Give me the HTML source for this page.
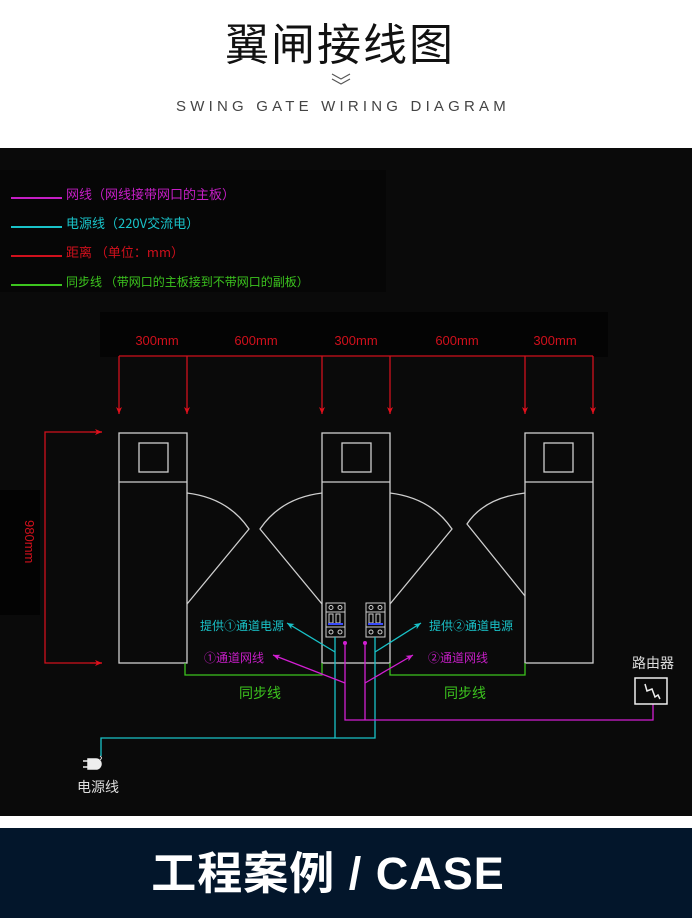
<!DOCTYPE html>
<html><head><meta charset="utf-8"><style>
html,body{margin:0;padding:0;background:#fff;}
body{width:692px;height:918px;overflow:hidden;position:relative;font-family:"Liberation Sans","Noto Sans CJK SC",sans-serif;}
</style></head><body>
<svg width="692" height="918" viewBox="0 0 692 918" xmlns="http://www.w3.org/2000/svg" style="position:absolute;left:0;top:0">
<defs>
<marker id="ar" markerWidth="8" markerHeight="8" refX="7" refY="4" orient="auto" markerUnits="userSpaceOnUse"><path d="M0,1 L7,4 L0,7 L2,4 Z" fill="#e0101c"/></marker>
<marker id="ac" markerWidth="8" markerHeight="8" refX="7" refY="4" orient="auto" markerUnits="userSpaceOnUse"><path d="M0,1 L7,4 L0,7 L2,4 Z" fill="#19c2c8"/></marker>
<marker id="am" markerWidth="8" markerHeight="8" refX="7" refY="4" orient="auto" markerUnits="userSpaceOnUse"><path d="M0,1 L7,4 L0,7 L2,4 Z" fill="#d21fd2"/></marker>
</defs>
<rect x="0" y="0" width="692" height="148" fill="#fff"/>
<text x="340" y="60" text-anchor="middle" font-size="44" font-family="Noto Sans CJK SC,sans-serif" fill="#111" letter-spacing="2">翼闸接线图</text>
<path d="M332,74 L341,79 L350,74 M332,79 L341,84 L350,79" stroke="#555" stroke-width="1.2" fill="none"/>
<text x="343" y="111" text-anchor="middle" font-size="15" fill="#444" letter-spacing="4.2">SWING GATE WIRING DIAGRAM</text>
<rect x="0" y="148" width="692" height="668" fill="#0a0a0a"/>
<rect x="0" y="170" width="386" height="122" fill="#060606"/>
<rect x="100" y="312" width="508" height="45" fill="#040404"/>
<rect x="0" y="490" width="40" height="125" fill="#030303"/>
<g font-size="13" font-family="Noto Sans CJK SC,sans-serif">
<line x1="11" y1="198" x2="62" y2="198" stroke="#c51ec5" stroke-width="2"/>
<text x="66" y="199" fill="#c51ec5">网线（网线接带网口的主板）</text>
<line x1="11" y1="227" x2="62" y2="227" stroke="#19c2c8" stroke-width="2"/>
<text x="66" y="228" fill="#19c2c8">电源线（220V交流电）</text>
<line x1="11" y1="256" x2="62" y2="256" stroke="#d0101c" stroke-width="2"/>
<text x="66" y="257" fill="#d0101c">距离 （单位：mm）</text>
<line x1="11" y1="285" x2="62" y2="285" stroke="#3cc41e" stroke-width="2"/>
<text x="66" y="286" fill="#3cc41e" font-size="12">同步线 （带网口的主板接到不带网口的副板）</text>
</g>
<g font-size="13" fill="#d0101c" text-anchor="middle">
<text x="157" y="345">300mm</text><text x="256" y="345">600mm</text><text x="356" y="345">300mm</text><text x="457" y="345">600mm</text><text x="555" y="345">300mm</text>
</g>
<g stroke="#d0101c" stroke-width="1.3" fill="none">
<line x1="119" y1="356" x2="593" y2="356"/>
<line x1="119" y1="356" x2="119" y2="414" marker-end="url(#ar)"/>
<line x1="187" y1="356" x2="187" y2="414" marker-end="url(#ar)"/>
<line x1="322" y1="356" x2="322" y2="414" marker-end="url(#ar)"/>
<line x1="390" y1="356" x2="390" y2="414" marker-end="url(#ar)"/>
<line x1="525" y1="356" x2="525" y2="414" marker-end="url(#ar)"/>
<line x1="593" y1="356" x2="593" y2="414" marker-end="url(#ar)"/>
<polyline points="102,432 45,432 45,663 102,663"/>
<line x1="90" y1="432" x2="102" y2="432" marker-end="url(#ar)"/>
<line x1="90" y1="663" x2="102" y2="663" marker-end="url(#ar)"/>
</g>
<text x="0" y="0" font-size="13" fill="#d0101c" transform="translate(25,520) rotate(90)">980mm</text>
<g stroke="#cfcfcf" stroke-width="1.3" fill="none">
<rect x="119" y="433" width="68" height="230"/><line x1="119" y1="482" x2="187" y2="482"/><rect x="139" y="443" width="29" height="29"/>
<rect x="322" y="433" width="68" height="230"/><line x1="322" y1="482" x2="390" y2="482"/><rect x="342" y="443" width="29" height="29"/>
<rect x="525" y="433" width="68" height="230"/><line x1="525" y1="482" x2="593" y2="482"/><rect x="544" y="443" width="29" height="29"/>
<path d="M187,493 Q228,498 249,529 L187,604"/>
<path d="M322,493 Q281,498 260,529 L322,604"/>
<path d="M390,493 Q431,498 452,529 L390,604"/>
<path d="M525,493 Q484,498 467,524 L525,596"/>
</g>
<g stroke="#cfcfcf" stroke-width="1" fill="none">
<rect x="326" y="603" width="19" height="34"/><line x1="326" y1="612" x2="345" y2="612"/><line x1="326" y1="627" x2="345" y2="627"/>
<circle cx="331" cy="607.5" r="2"/><circle cx="340" cy="607.5" r="2"/><circle cx="331" cy="632" r="2"/><circle cx="340" cy="632" r="2"/>
<rect x="329" y="614" width="4" height="9"/><rect x="336" y="614" width="4" height="9"/>
<rect x="366" y="603" width="19" height="34"/><line x1="366" y1="612" x2="385" y2="612"/><line x1="366" y1="627" x2="385" y2="627"/>
<circle cx="371" cy="607.5" r="2"/><circle cx="380" cy="607.5" r="2"/><circle cx="371" cy="632" r="2"/><circle cx="380" cy="632" r="2"/>
<rect x="369" y="614" width="4" height="9"/><rect x="376" y="614" width="4" height="9"/>
</g>
<rect x="328" y="623" width="15" height="2" fill="#3a4cff"/><rect x="368" y="623" width="15" height="2" fill="#3a4cff"/>
<g stroke="#3cc41e" stroke-width="1.3" fill="none">
<polyline points="185,663 185,675 322,675 322,663"/>
<polyline points="390,663 390,675 525,675 525,663"/>
</g>
<g font-size="14" fill="#3cc41e" font-family="Noto Sans CJK SC,sans-serif" text-anchor="middle">
<text x="260" y="698">同步线</text><text x="465" y="698">同步线</text>
</g>
<g stroke="#19c2c8" stroke-width="1.3" fill="none">
<polyline points="335,637 335,738 375,738 375,637"/>
<polyline points="335,738 101,738 101,756"/>
<line x1="335" y1="652" x2="287" y2="623" marker-end="url(#ac)"/>
<line x1="375" y1="652" x2="421" y2="623" marker-end="url(#ac)"/>
</g>
<path d="M100,756 q3,2 0,4" stroke="#ddd" fill="none"/>
<path d="M88,759 h8 a5,5 0 0 1 0,10 h-8 z M83,761 h5 M83,767 h5" fill="#eee" stroke="#eee" stroke-width="1.5"/>
<text x="98" y="792" text-anchor="middle" font-size="14" fill="#ddd" font-family="Noto Sans CJK SC,sans-serif">电源线</text>
<g stroke="#d21fd2" stroke-width="1.3" fill="none">
<polyline points="345,643 345,720 653,720 653,704"/>
<line x1="365" y1="643" x2="365" y2="720"/>
<line x1="345" y1="683" x2="273" y2="655" marker-end="url(#am)"/>
<line x1="365" y1="683" x2="413" y2="655" marker-end="url(#am)"/>
</g>
<circle cx="345" cy="643" r="2" fill="#d21fd2"/><circle cx="365" cy="643" r="2" fill="#d21fd2"/>
<g font-size="12" font-family="Noto Sans CJK SC,sans-serif">
<text x="284" y="630" text-anchor="end" fill="#19c2c8">提供①通道电源</text>
<text x="429" y="630" fill="#19c2c8">提供②通道电源</text>
<text x="264" y="662" text-anchor="end" fill="#c51ec5">①通道网线</text>
<text x="428" y="662" fill="#c51ec5">②通道网线</text>
</g>
<text x="653" y="668" text-anchor="middle" font-size="14" fill="#ddd" font-family="Noto Sans CJK SC,sans-serif">路由器</text>
<rect x="635" y="678" width="32" height="26" stroke="#eee" stroke-width="1.5" fill="#0a0a0a"/>
<path d="M645,684 L647,691 L652,689 L655,697 L658,695 L660,699" stroke="#eee" stroke-width="1.5" fill="none"/>
<rect x="0" y="816" width="692" height="12" fill="#fff"/>
<rect x="0" y="828" width="692" height="90" fill="#03162b"/>
<text x="328" y="889" text-anchor="middle" font-size="45" font-weight="bold" fill="#fff" letter-spacing="1" font-family="Liberation Sans,Noto Sans CJK SC,sans-serif">工程案例 / CASE</text>
</svg>
</body></html>
